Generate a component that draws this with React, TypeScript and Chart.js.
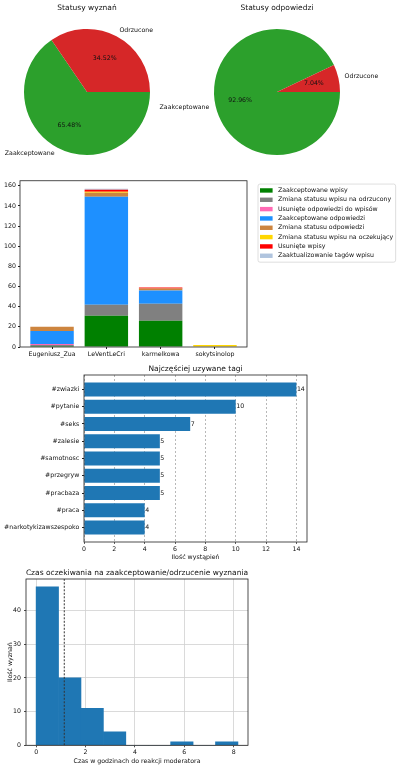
import React, { useEffect, useRef } from 'react';
import { Chart, registerables } from 'chart.js';

Chart.register(...registerables);

const FONT = "'DejaVu Sans', sans-serif";
const TEXT = '#111111';
Chart.defaults.font.family = FONT;
Chart.defaults.font.size = 6.25;
Chart.defaults.color = TEXT;

// ---------- Pie 1 ----------
const PIE1_TITLE = 'Statusy wyznań';
const PIE1_LABELS = ['Zaakceptowane', 'Odrzucone'];
const PIE1_VALUES = [55, 29];
// ---------- Pie 2 ----------
const PIE2_TITLE = 'Statusy odpowiedzi';
const PIE2_LABELS = ['Zaakceptowane', 'Odrzucone'];
const PIE2_VALUES = [66, 5];
const PIE_COLORS = ['#2ca02c', '#d62728'];

// ---------- Stacked bars ----------
const USERS = ['Eugeniusz_Zua', 'LeVentLeCri', 'karmelkowa', 'sokytsinolop'];
const ACTIONS = [
  'Zaakceptowane wpisy',
  'Zmiana statusu wpisu na odrzucony',
  'Usunięte odpowiedzi do wpisów',
  'Zaakceptowane odpowiedzi',
  'Zmiana statusu odpowiedzi',
  'Zmiana statusu wpisu na oczekujący',
  'Usunięte wpisy',
  'Zaaktualizowanie tagów wpisu',
];
const ACTION_COLORS = ['#008000', '#808080', '#ff69b4', '#1e90ff', '#cd853f', '#ffd700', '#ff0000', '#b0c4de'];
const ZAAKCEPTOWANE_WPISY = [1, 31, 26, 0];
const ZMIANA_NA_ODRZUCONY = [1, 11, 17, 0];
const USUNIETE_ODPOWIEDZI = [1, 0, 0, 0];
const ZAAKCEPTOWANE_ODPOWIEDZI = [13, 107, 13, 0];
const ZMIANA_STATUSU_ODPOWIEDZI = [4, 4, 2, 0];
const ZMIANA_NA_OCZEKUJACY = [0, 1, 0, 2];
const USUNIETE_WPISY = [0, 2, 1, 0];
const ZAKTUALIZOWANIE_TAGOW = [0, 1, 0, 0];
const ACTION_VALUES = [
  ZAAKCEPTOWANE_WPISY,
  ZMIANA_NA_ODRZUCONY,
  USUNIETE_ODPOWIEDZI,
  ZAAKCEPTOWANE_ODPOWIEDZI,
  ZMIANA_STATUSU_ODPOWIEDZI,
  ZMIANA_NA_OCZEKUJACY,
  USUNIETE_WPISY,
  ZAKTUALIZOWANIE_TAGOW,
];
const STACK_Y_MAX = 165;

// ---------- Tags ----------
const TAGS_TITLE = 'Najczęściej uzywane tagi';
const TAGS = ['#zwiazki', '#pytanie', '#seks', '#zalesie', '#samotnosc', '#przegryw', '#pracbaza', '#praca', '#narkotykizawszespoko'];
const TAG_COUNTS = [14, 10, 7, 5, 5, 5, 5, 4, 4];
const TAGS_X_MAX = 14.7;

// ---------- Histogram ----------
const HIST_TITLE = 'Czas oczekiwania na zaakceptowanie/odrzucenie wyznania';
const HIST_EDGES = [0, 0.908, 1.816, 2.724, 3.632, 4.54, 5.448, 6.356, 7.264, 8.172];
const HIST_COUNTS = [47, 20, 11, 4, 0, 0, 1, 0, 1];
const HIST_MEAN = 1.14;
const HIST_X_MIN = -0.41;
const HIST_X_MAX = 8.58;
const HIST_Y_MAX = 49.35;

const BLUE = '#1f77b4';
const TICK_COLOR = '#222222';

// ---------- plugins ----------
const axTitle = (text: string, gap: number) => ({
  id: 'axTitle',
  afterDraw(chart: any) {
    const { ctx, chartArea } = chart;
    ctx.save();
    ctx.font = `7.5px ${FONT}`;
    ctx.fillStyle = TEXT;
    ctx.textAlign = 'center';
    ctx.textBaseline = 'middle';
    ctx.fillText(text, (chartArea.left + chartArea.right) / 2, chartArea.top - gap);
    ctx.restore();
  },
});

const frame = {
  id: 'frame',
  afterDraw(chart: any) {
    const { ctx, chartArea: a } = chart;
    ctx.save();
    ctx.strokeStyle = '#222222';
    ctx.lineWidth = 0.8;
    ctx.strokeRect(a.left, a.top, a.right - a.left, a.bottom - a.top);
    ctx.restore();
  },
};

const pieLabels = {
  id: 'pieLabels',
  afterDatasetsDraw(chart: any) {
    const { ctx } = chart;
    const ds = chart.data.datasets[0];
    const total = ds.data.reduce((s: number, v: number) => s + v, 0);
    const meta = chart.getDatasetMeta(0);
    ctx.save();
    ctx.font = `6.25px ${FONT}`;
    ctx.fillStyle = TEXT;
    ctx.textBaseline = 'middle';
    meta.data.forEach((arc: any, i: number) => {
      const p = arc.getProps(['x', 'y', 'startAngle', 'endAngle', 'outerRadius'], true);
      const mid = (p.startAngle + p.endAngle) / 2;
      const cx = Math.cos(mid);
      const cy = Math.sin(mid);
      ctx.textAlign = cx > 0 ? 'left' : 'right';
      ctx.fillText(chart.data.labels[i], p.x + 1.1 * p.outerRadius * cx, p.y + 1.1 * p.outerRadius * cy);
      ctx.textAlign = 'center';
      ctx.fillText(((ds.data[i] / total) * 100).toFixed(2) + '%', p.x + 0.6 * p.outerRadius * cx, p.y + 0.6 * p.outerRadius * cy);
    });
    ctx.restore();
  },
};

const boxLegend = {
  id: 'boxLegend',
  afterDraw(chart: any) {
    const { ctx, chartArea } = chart;
    const items = chart.data.datasets;
    const left = chartArea.right + 11;
    const top = chartArea.top + 3.3;
    const rowH = 9.33;
    const padTop = 6.4;
    ctx.save();
    ctx.font = `6.25px ${FONT}`;
    let maxW = 0;
    items.forEach((ds: any) => {
      maxW = Math.max(maxW, ctx.measureText(ds.label).width);
    });
    const w = maxW + 22.5;
    const h = padTop * 2 + (items.length - 1) * rowH;
    ctx.beginPath();
    if ((ctx as any).roundRect) (ctx as any).roundRect(left, top, w, h, 2);
    else ctx.rect(left, top, w, h);
    ctx.fillStyle = 'rgba(255,255,255,0.8)';
    ctx.fill();
    ctx.strokeStyle = '#d6d6d6';
    ctx.lineWidth = 0.8;
    ctx.stroke();
    items.forEach((ds: any, i: number) => {
      const cy = top + padTop + i * rowH;
      ctx.fillStyle = ds.backgroundColor;
      ctx.fillRect(left + 2, cy - 2.2, 12.6, 4.4);
      ctx.fillStyle = TEXT;
      ctx.textAlign = 'left';
      ctx.textBaseline = 'middle';
      ctx.fillText(ds.label, left + 20, cy);
    });
    ctx.restore();
  },
};

const valueLabels = {
  id: 'valueLabels',
  afterDatasetsDraw(chart: any) {
    const { ctx } = chart;
    const meta = chart.getDatasetMeta(0);
    const ds = chart.data.datasets[0];
    ctx.save();
    ctx.font = `6.25px ${FONT}`;
    ctx.fillStyle = TEXT;
    ctx.textAlign = 'left';
    ctx.textBaseline = 'middle';
    meta.data.forEach((bar: any, i: number) => {
      ctx.fillText(String(ds.data[i].x), bar.x + 0.5, bar.y);
    });
    ctx.restore();
  },
};

const base = {
  responsive: false,
  animation: false as const,
  devicePixelRatio: 1,
  events: [] as any[],
};
const noLegend = { legend: { display: false }, tooltip: { enabled: false } };

const tickGrid = { display: true, drawOnChartArea: false, offset: false, tickLength: 2, tickColor: TICK_COLOR };

function pieConfig(title: string, labels: string[], values: number[], padding: any): any {
  return {
    type: 'pie',
    data: {
      labels,
      datasets: [{ data: values, backgroundColor: PIE_COLORS, borderWidth: 0, hoverOffset: 0, offset: 0 }],
    },
    options: { ...base, rotation: 90, layout: { padding }, plugins: noLegend },
    plugins: [axTitle(title, 20.7), pieLabels],
  };
}

function stackedConfig(): any {
  return {
    type: 'bar',
    data: {
      datasets: ACTIONS.map((label, k) => ({
        label,
        data: ACTION_VALUES[k].map((v, i) => ({ x: i, y: v })),
        backgroundColor: ACTION_COLORS[k],
        borderWidth: 0,
        barPercentage: 0.8,
        categoryPercentage: 1,
      })),
    },
    options: {
      ...base,
      layout: { padding: { left: 0, top: 5, right: 153, bottom: 0 } },
      plugins: noLegend,
      scales: {
        x: {
          type: 'linear',
          min: -0.59,
          max: 3.59,
          stacked: true,
          offset: false,
          afterBuildTicks: (s: any) => {
            s.ticks = USERS.map((_, i) => ({ value: i }));
          },
          afterFit: (s: any) => {
            s.height = 13;
          },
          grid: tickGrid,
          border: { display: false },
          ticks: { callback: (v: any) => USERS[v] ?? '', padding: 1.25, maxRotation: 0, minRotation: 0, autoSkip: false },
        },
        y: {
          type: 'linear',
          stacked: true,
          min: 0,
          max: STACK_Y_MAX,
          afterFit: (s: any) => {
            s.width = 20;
          },
          grid: tickGrid,
          border: { display: false },
          ticks: { stepSize: 20, includeBounds: false, padding: 2 },
        },
      },
    },
    plugins: [frame, boxLegend],
  };
}

function tagsConfig(): any {
  return {
    type: 'bar',
    data: {
      datasets: [
        {
          data: TAG_COUNTS.map((v, i) => ({ x: v, y: i })),
          backgroundColor: BLUE,
          borderWidth: 0,
          barPercentage: 0.8,
          categoryPercentage: 1,
        },
      ],
    },
    options: {
      ...base,
      indexAxis: 'y',
      layout: { padding: { left: 0, top: 15, right: 93, bottom: 0 } },
      plugins: noLegend,
      scales: {
        x: {
          type: 'linear',
          min: 0,
          max: TAGS_X_MAX,
          afterFit: (s: any) => {
            s.height = 20;
          },
          grid: { display: true, color: '#9a9a9a', lineWidth: 0.7, tickLength: 2, tickColor: TICK_COLOR, borderDash: [2, 2], tickBorderDash: [] },
          border: { display: false, dash: [2, 2] },
          ticks: { stepSize: 2, includeBounds: false, padding: 1.5, maxRotation: 0 },
          title: { display: true, text: 'Ilość wystąpień', padding: { top: 0, bottom: 1.25 } },
        },
        y: {
          type: 'linear',
          min: -0.84,
          max: 8.84,
          reverse: true,
          offset: false,
          afterBuildTicks: (s: any) => {
            s.ticks = TAGS.map((_, i) => ({ value: i }));
          },
          afterFit: (s: any) => {
            s.width = 84;
          },
          grid: tickGrid,
          border: { display: false },
          ticks: { callback: (v: any) => TAGS[v] ?? '', padding: 2.7, autoSkip: false },
        },
      },
    },
    plugins: [axTitle(TAGS_TITLE, 5.7), frame, valueLabels],
  };
}

function histConfig(): any {
  return {
    type: 'bar',
    data: {
      datasets: [
        {
          type: 'line',
          data: [
            { x: HIST_MEAN, y: 0 },
            { x: HIST_MEAN, y: HIST_Y_MAX },
          ],
          borderColor: '#333333',
          borderWidth: 1,
          borderDash: [2, 1.5],
          pointRadius: 0,
          order: 0,
        },
        {
          type: 'bar',
          data: HIST_COUNTS.map((c, i) => ({ x: (HIST_EDGES[i] + HIST_EDGES[i + 1]) / 2, y: c })),
          backgroundColor: BLUE,
          borderWidth: 0,
          barPercentage: 1,
          categoryPercentage: 1,
          order: 1,
        },
      ],
    },
    options: {
      ...base,
      layout: { padding: { left: 0, top: 18, right: 152, bottom: 0 } },
      plugins: noLegend,
      scales: {
        x: {
          type: 'linear',
          min: HIST_X_MIN,
          max: HIST_X_MAX,
          offset: false,
          afterFit: (s: any) => {
            s.height = 23.7;
          },
          grid: { display: true, color: '#d0d0d0', lineWidth: 0.8, offset: false, tickLength: 2, tickColor: TICK_COLOR },
          border: { display: false },
          ticks: { stepSize: 2, includeBounds: false, padding: 1.65, maxRotation: 0 },
          title: { display: true, text: 'Czas w godzinach do reakcji moderatora', padding: { top: 0, bottom: 3.55 } },
        },
        y: {
          type: 'linear',
          min: 0,
          max: HIST_Y_MAX,
          afterFit: (s: any) => {
            s.width = 26;
          },
          grid: { display: true, color: '#d0d0d0', lineWidth: 0.8, tickLength: 2, tickColor: TICK_COLOR },
          border: { display: false },
          ticks: { stepSize: 10, includeBounds: false, padding: 3 },
          title: { display: true, text: 'Ilość wyznań', padding: { top: 6.25, bottom: 0 } },
        },
      },
    },
    plugins: [axTitle(HIST_TITLE, 5.5), frame],
  };
}

function ChartCanvas(props: { left: number; top: number; width: number; height: number; make: () => any }) {
  const ref = useRef<HTMLCanvasElement>(null);
  useEffect(() => {
    const chart = new Chart(ref.current as HTMLCanvasElement, props.make());
    return () => chart.destroy();
  }, []);
  return (
    <canvas
      ref={ref}
      width={props.width}
      height={props.height}
      style={{ position: 'absolute', left: props.left, top: props.top, width: props.width, height: props.height }}
    />
  );
}

export default function App() {
  return (
    <div style={{ position: 'absolute', left: 0, top: 0, width: 400, height: 769, background: '#ffffff', overflow: 'hidden' }}>
      <ChartCanvas left={0} top={0} width={200} height={170} make={() => pieConfig(PIE1_TITLE, PIE1_LABELS, PIE1_VALUES, { left: 24, top: 29, right: 50, bottom: 15 })} />
      <ChartCanvas left={150} top={0} width={250} height={170} make={() => pieConfig(PIE2_TITLE, PIE2_LABELS, PIE2_VALUES, { left: 64, top: 29, right: 60, bottom: 15 })} />
      <ChartCanvas left={0} top={175} width={400} height={185} make={stackedConfig} />
      <ChartCanvas left={0} top={360} width={400} height={202} make={tagsConfig} />
      <ChartCanvas left={0} top={561} width={400} height={208} make={histConfig} />
    </div>
  );
}
